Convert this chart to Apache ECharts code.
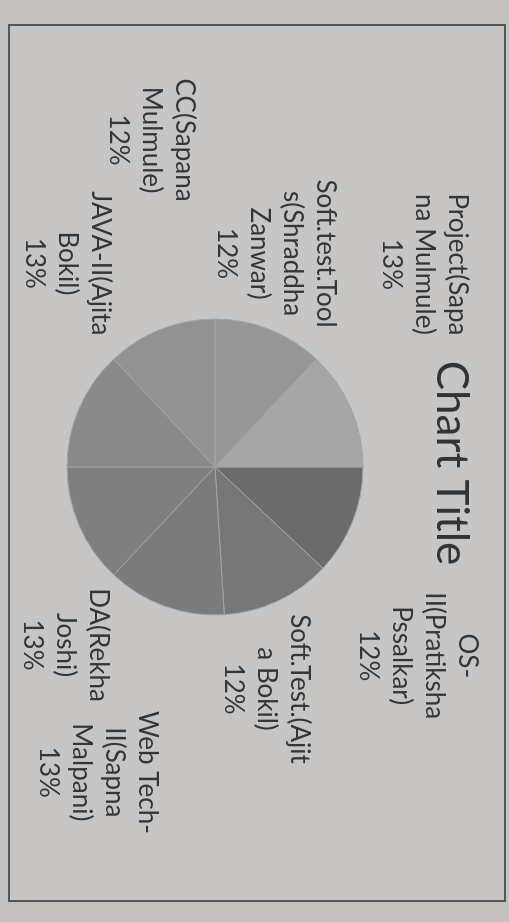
<!DOCTYPE html>
<html>
<head>
<meta charset="utf-8">
<script src="https://cdn.jsdelivr.net/npm/echarts@6/dist/echarts.min.js"></script>
<style>
  html, body { margin:0; padding:0; width:509px; height:922px; overflow:hidden; background:#c4c2c1; }
  #wrap { position:absolute; left:0; top:0; width:878px; height:498px; box-sizing:border-box;
          border:2px solid #555555; background:#c8c6c5;
          transform-origin:0 0; transform: translate(506px, 24px) rotate(90deg); }
  #chart { width:100%; height:100%; }
</style>
</head>
<body>
<div id="wrap"><div id="chart"></div></div>
<script>
// ---- data ----
const categories = [
  'OS-\nII(Pratiksha\nPssalkar)',
  'Soft.Test.(Ajit\na Bokil)',
  'Web Tech-\nII(Sapna\nMalpani)',
  'DA(Rekha\nJoshi)',
  'JAVA-II(Ajita\nBokil)',
  'CC(Sapana\nMulmule)',
  'Soft.test.Tool\ns(Shraddha\nZanwar)',
  'Project(Sapa\nna Mulmule)'
];
const values = [12, 12, 13, 13, 13, 12, 12, 13];
const sliceColors = ['#6b6b6b', '#777777', '#7b7b7b', '#7f7f7f', '#8a8a8a', '#929292', '#979797', '#a6a6a6'];
const chartTitle = 'Chart Title';

// ---- layout (not data) ----
const CX = 441, CY = 289, R = 148;
// label placement around the pie: angle (deg, clockwise from 12 o'clock) and distance in radii
const labelAngle = [43, 77, 111, 130, 234, 259, 286, 316];
const labelDist  = [1.87, 1.54, 2.21, 1.57, 1.70, 2.25, 1.50, 1.97];

const chart = echarts.init(document.getElementById('chart'), null, { renderer: 'canvas' });
chart.setOption({
  animation: false,
  backgroundColor: 'transparent',
  title: {
    text: chartTitle,
    left: 'center',
    top: 26,
    textStyle: { fontFamily: 'Lato', fontSize: 44, fontWeight: 'normal', color: '#333333' }
  },
  series: [{
    type: 'pie',
    center: [CX, CY],
    radius: R,
    startAngle: 90,
    clockwise: true,
    color: sliceColors,
    itemStyle: { borderColor: '#a3a3a3', borderWidth: 1 },
    labelLine: { show: false },
    label: {
      show: true,
      position: 'outside',
      formatter: '{b}\n{d}%',
      fontFamily: 'Lato',
      fontSize: 26,
      lineHeight: 33,
      color: '#353535',
      align: 'center'
    },
    labelLayout: function (p) {
      const i = p.dataIndex;
      const a = labelAngle[i] * Math.PI / 180;
      const d = labelDist[i] * R;
      return { x: CX + d * Math.sin(a), y: CY - d * Math.cos(a), align: 'center', verticalAlign: 'middle' };
    },
    data: categories.map((c, i) => ({ name: c, value: values[i] }))
  }]
});
</script>
</body>
</html>
